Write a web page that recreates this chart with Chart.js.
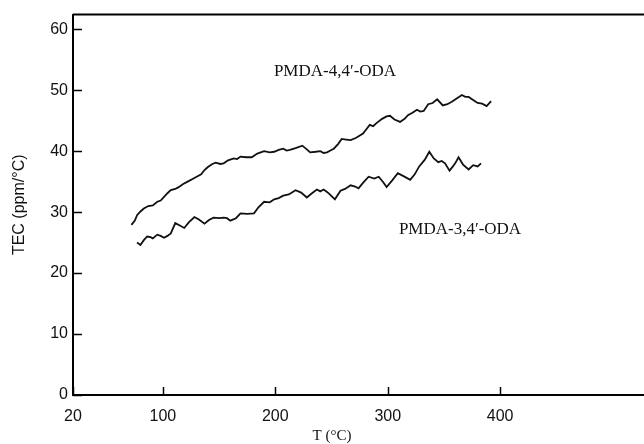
<!DOCTYPE html>
<html>
<head>
<meta charset="utf-8">
<script src="https://cdn.jsdelivr.net/npm/chart.js@4"></script>
<style>
  body { margin: 0; background: #fff; }
  canvas { display: block; }
</style>
</head>
<body>
<canvas id="myChart" width="644" height="444"></canvas>
<script>
// PMDA-4,4'-ODA (upper curve)
const temp44 = [72, 75, 77, 80, 83, 87, 91, 95, 98, 101, 104, 107, 111, 114, 118, 122, 128, 134, 137, 140, 144, 147, 151, 154, 158, 163, 166, 169, 174, 179, 184, 190, 195, 199, 203, 207, 210, 213, 218, 224, 228, 231, 236, 240, 243, 246, 249, 252, 256, 259, 263, 267, 272, 278, 281, 284, 287, 290, 295, 299, 302, 306, 311, 315, 318, 322, 326, 329, 332, 336, 340, 344, 349, 353, 357, 361, 366, 369, 372, 376, 380, 384, 388, 392];
const tec44 = [27.9, 28.6, 29.5, 30.1, 30.6, 31.0, 31.1, 31.7, 31.9, 32.5, 33.1, 33.6, 33.8, 34.1, 34.6, 35.0, 35.6, 36.2, 36.9, 37.4, 37.9, 38.1, 37.9, 38.0, 38.5, 38.8, 38.7, 39.1, 39.0, 39.0, 39.6, 40.0, 39.8, 39.9, 40.2, 40.4, 40.1, 40.2, 40.5, 40.9, 40.3, 39.8, 39.9, 40.0, 39.7, 39.8, 40.1, 40.4, 41.2, 42.0, 41.9, 41.8, 42.2, 42.9, 43.6, 44.3, 44.1, 44.6, 45.3, 45.7, 45.8, 45.2, 44.8, 45.3, 45.9, 46.3, 46.8, 46.5, 46.6, 47.7, 47.9, 48.5, 47.5, 47.7, 48.1, 48.6, 49.2, 48.9, 48.9, 48.4, 47.9, 47.8, 47.4, 48.2];

// PMDA-3,4'-ODA (lower curve)
const temp34 = [77, 80, 83, 86, 89, 91, 95, 98, 101, 104, 107, 111, 115, 119, 123, 128, 132, 137, 141, 145, 150, 154, 157, 160, 165, 169, 175, 181, 185, 190, 195, 199, 203, 207, 212, 218, 223, 228, 232, 237, 240, 243, 246, 248, 253, 258, 262, 267, 271, 274, 278, 283, 288, 292, 296, 299, 304, 309, 314, 320, 324, 328, 333, 337, 341, 345, 348, 351, 355, 358, 360, 363, 367, 372, 376, 380, 383];
const tec34 = [25.0, 24.6, 25.4, 26.0, 25.9, 25.7, 26.3, 26.1, 25.8, 26.1, 26.5, 28.2, 27.8, 27.4, 28.3, 29.2, 28.8, 28.1, 28.7, 29.1, 29.0, 29.1, 29.0, 28.6, 29.0, 29.8, 29.7, 29.8, 30.8, 31.7, 31.6, 32.1, 32.3, 32.7, 32.9, 33.6, 33.2, 32.4, 33.0, 33.7, 33.4, 33.7, 33.3, 33.0, 32.1, 33.5, 33.8, 34.4, 34.2, 33.9, 34.8, 35.8, 35.5, 35.8, 34.9, 34.1, 35.2, 36.4, 35.9, 35.3, 36.2, 37.5, 38.6, 39.9, 38.8, 38.2, 38.4, 38.0, 36.8, 37.5, 38.0, 39.0, 37.8, 37.0, 37.7, 37.5, 38.0];

const xTicks = [20, 100, 200, 300, 400];
const yTicks = [0, 10, 20, 30, 40, 50, 60];

const toPoints = (xs, ys) => xs.map((x, i) => ({ x: x, y: ys[i] }));

// top frame line, inward tick marks and the text labels
const framePlugin = {
    id: 'frame',
    afterDraw(chart) {
        const { ctx, chartArea, scales } = chart;
        ctx.save();
        ctx.strokeStyle = '#000';
        ctx.lineWidth = 2;
        ctx.beginPath();
        ctx.moveTo(chartArea.left, chartArea.top);
        ctx.lineTo(chartArea.right, chartArea.top);
        ctx.stroke();

        ctx.lineWidth = 1.5;
        scales.y.ticks.forEach((t) => {
            const py = Math.round(scales.y.getPixelForValue(t.value)) + 0.5;
            ctx.beginPath();
            ctx.moveTo(chartArea.left, py);
            ctx.lineTo(chartArea.left + 9, py);
            ctx.stroke();
        });
        scales.x.ticks.forEach((t) => {
            const px = Math.round(scales.x.getPixelForValue(t.value)) + 0.5;
            ctx.beginPath();
            ctx.moveTo(px, chartArea.bottom);
            ctx.lineTo(px, chartArea.bottom - 8);
            ctx.stroke();
        });

        ctx.fillStyle = '#111';
        ctx.textAlign = 'center';
        ctx.textBaseline = 'middle';
        ctx.font = '17px "Liberation Serif"';
        ctx.fillText('PMDA-4,4\u2032-ODA', 335, 72);
        ctx.fillText('PMDA-3,4\u2032-ODA', 460, 230);
        ctx.font = '15px "Liberation Serif"';
        ctx.fillText('T (\u00B0C)', 332, 436);
        ctx.restore();
    }
};

const lineStyle = {
    borderColor: '#111',
    borderWidth: 1.8,
    pointRadius: 0,
    fill: false,
    tension: 0
};

const config = {
    type: 'line',
    data: {
        datasets: [
            Object.assign({ label: 'PMDA-4,4\u2032-ODA', data: toPoints(temp44, tec44) }, lineStyle),
            Object.assign({ label: 'PMDA-3,4\u2032-ODA', data: toPoints(temp34, tec34) }, lineStyle)
        ]
    },
    options: {
        responsive: false,
        animation: false,
        devicePixelRatio: 1,
        layout: { padding: { top: 14, right: 0, left: 0, bottom: 0 } },
        plugins: {
            legend: { display: false },
            tooltip: { enabled: false }
        },
        scales: {
            x: {
                type: 'linear',
                min: 20,
                max: 528,
                afterBuildTicks: (scale) => { scale.ticks = xTicks.map((v) => ({ value: v })); },
                afterFit: (scale) => { scale.height = 49; },
                grid: { display: false, drawTicks: false },
                border: { display: true, color: '#000', width: 2 },
                ticks: {
                    color: '#111',
                    padding: 12,
                    maxRotation: 0,
                    font: { family: '"Liberation Sans", Arial', size: 16 }
                }
            },
            y: {
                type: 'linear',
                min: 0,
                max: 62.4,
                afterBuildTicks: (scale) => { scale.ticks = yTicks.map((v) => ({ value: v })); },
                afterFit: (scale) => { scale.width = 73; },
                grid: { display: false, drawTicks: false },
                border: { display: true, color: '#000', width: 2 },
                ticks: {
                    color: '#111',
                    padding: 5,
                    font: { family: '"Liberation Sans", Arial', size: 16 }
                },
                title: {
                    display: true,
                    text: 'TEC (ppm/\u00B0C)',
                    color: '#111',
                    padding: { top: 10, bottom: 0 },
                    font: { family: '"Liberation Sans", Arial', size: 16 }
                }
            }
        }
    },
    plugins: [framePlugin]
};

const myChart = new Chart(document.getElementById('myChart'), config);
</script>
</body>
</html>
